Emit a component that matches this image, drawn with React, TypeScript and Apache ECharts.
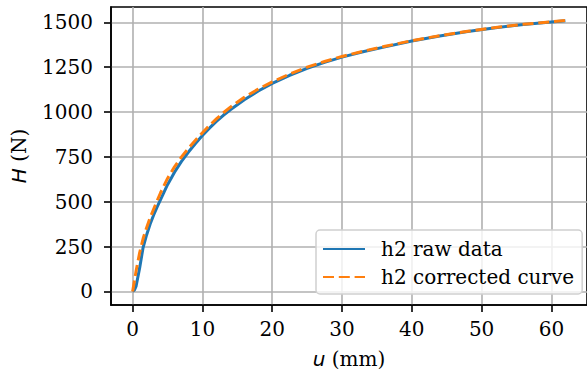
import React, { useEffect, useRef } from "react";
import * as echarts from "echarts";

const rawU = [0, 0.25, 0.5, 1, 1.5, 2, 2.5, 3, 3.5, 4, 5, 6, 7, 8, 9, 10, 11, 12, 13, 14, 16, 18, 20, 22.5, 25, 27.5, 30, 33, 36, 40, 44, 48, 52, 56, 60, 62];
const rawH = [0, 8, 30, 130, 245, 315, 375, 425, 470, 512, 595, 665, 725, 777, 825, 869, 910, 948, 982, 1013, 1068, 1117, 1160, 1205, 1244, 1277, 1306, 1336, 1362, 1396, 1424, 1449, 1470, 1488, 1502, 1509];

const corrU = [0, 0.5, 1, 1.5, 2, 2.5, 3, 3.5, 4, 5, 6, 7, 8, 9, 10, 11, 12, 13, 14, 16, 18, 20, 22.5, 25, 27.5, 30, 33, 36, 40, 44, 48, 52, 56, 60, 62];
const corrH = [0, 115, 215, 295, 355, 410, 458, 505, 550, 630, 695, 750, 798, 843, 885, 925, 962, 996, 1027, 1082, 1128, 1168, 1212, 1250, 1282, 1310, 1339, 1365, 1398, 1426, 1450, 1471, 1489, 1503, 1510];

const xTicks = [0, 10, 20, 30, 40, 50, 60];
const yTicks = [0, 250, 500, 750, 1000, 1250, 1500];

const seriesNames = ["h2 raw data", "h2 corrected curve"];

export default function App() {
  const ref = useRef<HTMLDivElement>(null);
  useEffect(() => {
    document.body.style.margin = "0";
    const chart = echarts.init(ref.current!, null, { renderer: "svg" });
    const serif = "DejaVu Serif";
    const fs = 20;
    const rich = {
      i: { fontFamily: "DejaVu Sans", fontStyle: "italic", fontSize: fs, color: "#000" },
      n: { fontFamily: serif, fontSize: fs, color: "#000" },
    };
    chart.setOption({
      animation: false,
      backgroundColor: "#fff",
      grid: {
        left: 111,
        top: 7,
        right: -3,
        bottom: 72,
        show: true,
        borderColor: "#000",
        borderWidth: 1.6,
        backgroundColor: "transparent",
      },
      legend: {
        data: seriesNames,
        orient: "vertical",
        left: 316,
        top: 230,
        padding: [9, 8, 7, 6],
        itemWidth: 42,
        itemHeight: 14,
        itemGap: 8,
        itemStyle: { opacity: 0 },
        backgroundColor: "rgba(255,255,255,0.8)",
        borderColor: "#d0d0d0",
        borderWidth: 1.5,
        borderRadius: 4,
        textStyle: { fontFamily: serif, fontSize: fs, color: "#000", lineHeight: 20, padding: [0, 0, 0, 11] },
      },
      xAxis: {
        type: "value",
        min: -3.1,
        max: 65.1,
        name: "{i|u}{n| (mm)}",
        nameLocation: "middle",
        nameGap: 44,
        nameTextStyle: { fontFamily: serif, fontSize: fs, color: "#000", rich },
        axisLine: { show: true, onZero: false, lineStyle: { color: "#000", width: 1.6 } },
        axisTick: { show: true, customValues: xTicks, length: 7, lineStyle: { color: "#000", width: 1.6 } },
        axisLabel: {
          customValues: xTicks,
          margin: 14,
          fontFamily: serif,
          fontSize: fs,
          color: "#000",
          formatter: (v: number) => String(v),
        },
        splitLine: { show: true, lineStyle: { color: "#b0b0b0", width: 1.6 } },
      },
      yAxis: {
        type: "value",
        min: -75.5,
        max: 1585.5,
        name: "{i|H}{n| (N)}",
        nameLocation: "middle",
        nameRotate: 90,
        nameGap: 82,
        nameTextStyle: { fontFamily: serif, fontSize: fs, color: "#000", rich },
        axisLine: { show: true, onZero: false, lineStyle: { color: "#000", width: 1.6 } },
        axisTick: { show: true, customValues: yTicks, length: 7, lineStyle: { color: "#000", width: 1.6 } },
        axisLabel: {
          customValues: yTicks,
          margin: 18,
          fontFamily: serif,
          fontSize: fs,
          color: "#000",
          formatter: (v: number) => String(v),
        },
        splitLine: { show: true, lineStyle: { color: "#b0b0b0", width: 1.6 } },
      },
      series: [
        {
          name: seriesNames[0],
          type: "line",
          data: rawU.map((u, i) => [u, rawH[i]]),
          showSymbol: false,
          symbol: "none",
          lineStyle: { color: "#1f77b4", width: 3 },
          itemStyle: { color: "#1f77b4" },
          z: 3,
        },
        {
          name: seriesNames[1],
          type: "line",
          data: corrU.map((u, i) => [u, corrH[i]]),
          showSymbol: false,
          symbol: "none",
          lineStyle: { color: "#ff7f0e", width: 3, type: [11, 4.8] },
          itemStyle: { color: "#ff7f0e" },
          z: 4,
        },
      ],
    });
    return () => chart.dispose();
  }, []);
  return <div ref={ref} style={{ position: "absolute", left: 0, top: 0, width: 587, height: 377 }} />;
}
